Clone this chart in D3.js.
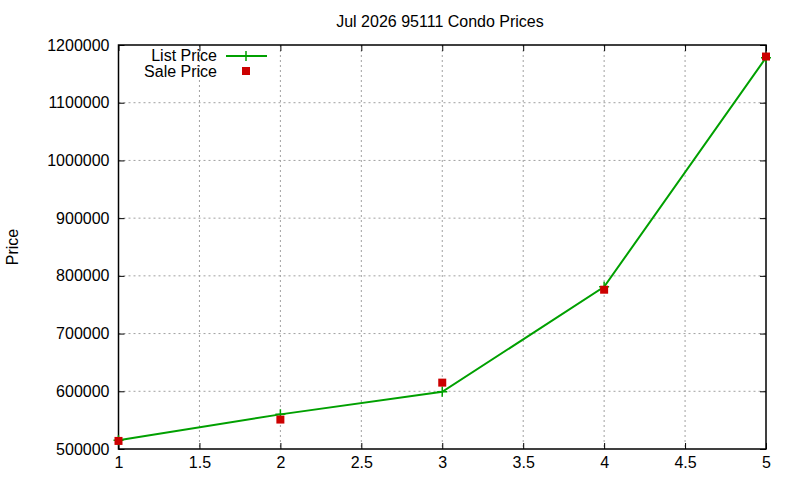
<!DOCTYPE html>
<html><head><meta charset="utf-8">
<script src="https://cdn.jsdelivr.net/npm/d3@7"></script>
<style>body{margin:0;background:#fff}svg{display:block}text{font-family:"Liberation Sans",Arial,sans-serif}</style>
</head><body>
<svg id="c" width="800" height="480"></svg>
<script>
const xValues = [1, 2, 3, 4, 5];
const listPrice = [515000, 560000, 599000, 781000, 1178000];
const salePrice = [514000, 551000, 615000, 776000, 1180000];
const xTicks = [1, 1.5, 2, 2.5, 3, 3.5, 4, 4.5, 5];
const yTicks = [500000, 600000, 700000, 800000, 900000, 1000000, 1100000, 1200000];
const title = "Jul 2026 95111 Condo Prices";

const svg = d3.select("#c");
const m = {l:118.5, r:766, t:45, b:449};
const x = d3.scaleLinear().domain([1,5]).range([m.l, m.r]);
const y = d3.scaleLinear().domain([500000,1200000]).range([m.b, m.t]);
const FS = "16px";

// grid
const g = svg.append("g");
g.selectAll(".gx").data(xTicks.slice(1,-1)).join("line")
  .attr("x1", d=>x(d)).attr("x2", d=>x(d)).attr("y1", m.t).attr("y2", m.b)
  .attr("stroke","#a0a0a0").attr("stroke-dasharray","2,3").attr("stroke-width",1);
g.selectAll(".gy").data(yTicks.slice(1,-1)).join("line")
  .attr("y1", d=>y(d)).attr("y2", d=>y(d)).attr("x1", m.l).attr("x2", m.r)
  .attr("stroke","#a0a0a0").attr("stroke-dasharray","2,3").attr("stroke-width",1);

// axes (inward ticks, mirrored)
const ax = svg.append("g").attr("transform",`translate(0,${m.b})`)
  .call(d3.axisBottom(x).tickValues(xTicks).tickSize(-6).tickPadding(8).tickFormat(d3.format("")));
const axT = svg.append("g").attr("transform",`translate(0,${m.t})`)
  .call(d3.axisTop(x).tickValues(xTicks).tickSize(-6).tickFormat(""));
const ay = svg.append("g").attr("transform",`translate(${m.l},0)`)
  .call(d3.axisLeft(y).tickValues(yTicks).tickSize(-6).tickPadding(9).tickFormat(d3.format("d")));
const ayR = svg.append("g").attr("transform",`translate(${m.r},0)`)
  .call(d3.axisRight(y).tickValues(yTicks).tickSize(-6).tickFormat(""));
[ax,axT,ay,ayR].forEach(a=>{
  a.select(".domain").remove();
  a.selectAll("line").attr("stroke","#000");
  a.selectAll("text").attr("fill","#000").style("font-size",FS).style("font-family",'"Liberation Sans",Arial,sans-serif');
});
ax.selectAll("text").attr("dy","0.71em");
svg.append("rect").attr("x",m.l).attr("y",m.t).attr("width",m.r-m.l).attr("height",m.b-m.t)
  .attr("fill","none").attr("stroke","#000").attr("stroke-width",1.5);

// title & label
svg.append("text").attr("x",440).attr("y",27).attr("text-anchor","middle").style("font-size",FS).text(title);
svg.append("text").attr("transform","translate(18,247) rotate(-90)").attr("text-anchor","middle").style("font-size",FS).text("Price");

// list line
const line = d3.line().x((d,i)=>x(xValues[i])).y(d=>y(d));
svg.append("path").datum(listPrice).attr("d",line).attr("fill","none").attr("stroke","#00a000").attr("stroke-width",2);
const plus = (sel, cx, cy) => {
  sel.append("path").attr("d",`M${cx-5},${cy}H${cx+5}M${cx},${cy-5}V${cy+5}`).attr("stroke","#00a000").attr("stroke-width",1.5);
};
listPrice.forEach((v,i)=>plus(svg, x(xValues[i]), y(v)));

// sale squares
svg.selectAll(".sq").data(salePrice).join("rect")
  .attr("x",(d,i)=>x(xValues[i])-4).attr("y",d=>y(d)-4).attr("width",8).attr("height",8).attr("fill","#cc0000");

// legend
svg.append("text").attr("x",217).attr("y",61).attr("text-anchor","end").style("font-size",FS).text("List Price");
svg.append("line").attr("x1",226).attr("x2",267).attr("y1",56).attr("y2",56).attr("stroke","#00a000").attr("stroke-width",2);
plus(svg, 246, 56);
svg.append("text").attr("x",217).attr("y",77).attr("text-anchor","end").style("font-size",FS).text("Sale Price");
svg.append("rect").attr("x",242).attr("y",67).attr("width",8).attr("height",8).attr("fill","#cc0000");
</script>
</body></html>
